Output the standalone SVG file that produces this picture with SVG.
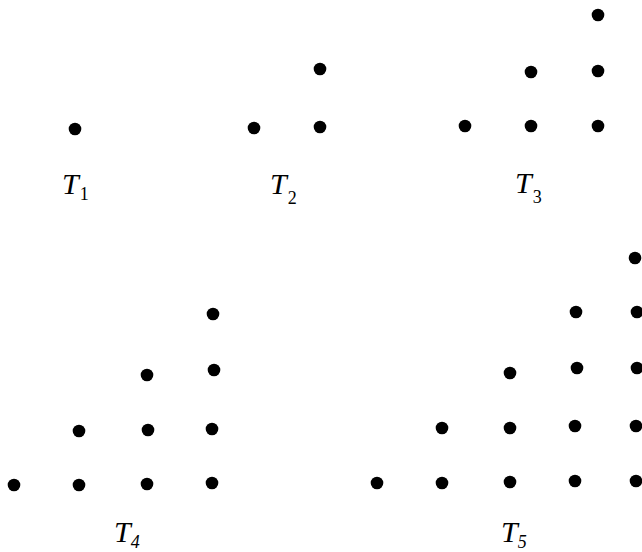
<svg xmlns="http://www.w3.org/2000/svg" width="642" height="552" viewBox="0 0 642 552">
<style>
.d{fill:#000}
.t{font-family:"Liberation Serif","Times New Roman",serif;font-style:italic;font-size:30px;fill:#000}
.s{font-family:"Liberation Serif","Times New Roman",serif;font-size:18px;fill:#000}
.si{font-family:"Liberation Serif","Times New Roman",serif;font-style:italic;font-size:18px;fill:#000}
</style>
<rect width="642" height="552" fill="#fff"/>
<g id="T1">
<circle class="d" cx="75" cy="129" r="6.3"/>
<text x="62" y="194"><tspan class="t">T</tspan><tspan class="s" dx="1" dy="6">1</tspan></text>
</g>
<g id="T2">
<circle class="d" cx="254" cy="128" r="6.3"/>
<circle class="d" cx="320" cy="127" r="6.3"/>
<circle class="d" cx="320" cy="69" r="6.3"/>
<text x="270" y="194"><tspan class="t">T</tspan><tspan class="s" dx="1" dy="10">2</tspan></text>
</g>
<g id="T3">
<circle class="d" cx="465" cy="126" r="6.3"/>
<circle class="d" cx="531" cy="126" r="6.3"/>
<circle class="d" cx="598" cy="126" r="6.3"/>
<circle class="d" cx="531" cy="72" r="6.3"/>
<circle class="d" cx="598" cy="71" r="6.3"/>
<circle class="d" cx="598" cy="15" r="6.3"/>
<text x="515" y="193"><tspan class="t">T</tspan><tspan class="s" dx="1" dy="10">3</tspan></text>
</g>
<g id="T4">
<circle class="d" cx="14" cy="485" r="6.3"/>
<circle class="d" cx="79" cy="485" r="6.3"/>
<circle class="d" cx="147" cy="484" r="6.3"/>
<circle class="d" cx="212" cy="483" r="6.3"/>
<circle class="d" cx="79" cy="431" r="6.3"/>
<circle class="d" cx="148" cy="430" r="6.3"/>
<circle class="d" cx="212" cy="429" r="6.3"/>
<circle class="d" cx="147" cy="375" r="6.3"/>
<circle class="d" cx="214" cy="370" r="6.3"/>
<circle class="d" cx="213" cy="314" r="6.3"/>
<text x="114" y="542"><tspan class="t">T</tspan><tspan class="si" dx="0" dy="6">4</tspan></text>
</g>
<g id="T5">
<circle class="d" cx="377" cy="483" r="6.3"/>
<circle class="d" cx="442" cy="483" r="6.3"/>
<circle class="d" cx="510" cy="482" r="6.3"/>
<circle class="d" cx="575" cy="481" r="6.3"/>
<circle class="d" cx="636" cy="481" r="6.3"/>
<circle class="d" cx="442" cy="428" r="6.3"/>
<circle class="d" cx="510" cy="428" r="6.3"/>
<circle class="d" cx="575" cy="426" r="6.3"/>
<circle class="d" cx="636" cy="426" r="6.3"/>
<circle class="d" cx="510" cy="373" r="6.3"/>
<circle class="d" cx="577" cy="368" r="6.3"/>
<circle class="d" cx="637" cy="368" r="6.3"/>
<circle class="d" cx="576" cy="312" r="6.3"/>
<circle class="d" cx="637" cy="312" r="6.3"/>
<circle class="d" cx="635" cy="258" r="6.3"/>
<text x="501" y="542"><tspan class="t">T</tspan><tspan class="si" dx="0" dy="6">5</tspan></text>
</g>
</svg>
